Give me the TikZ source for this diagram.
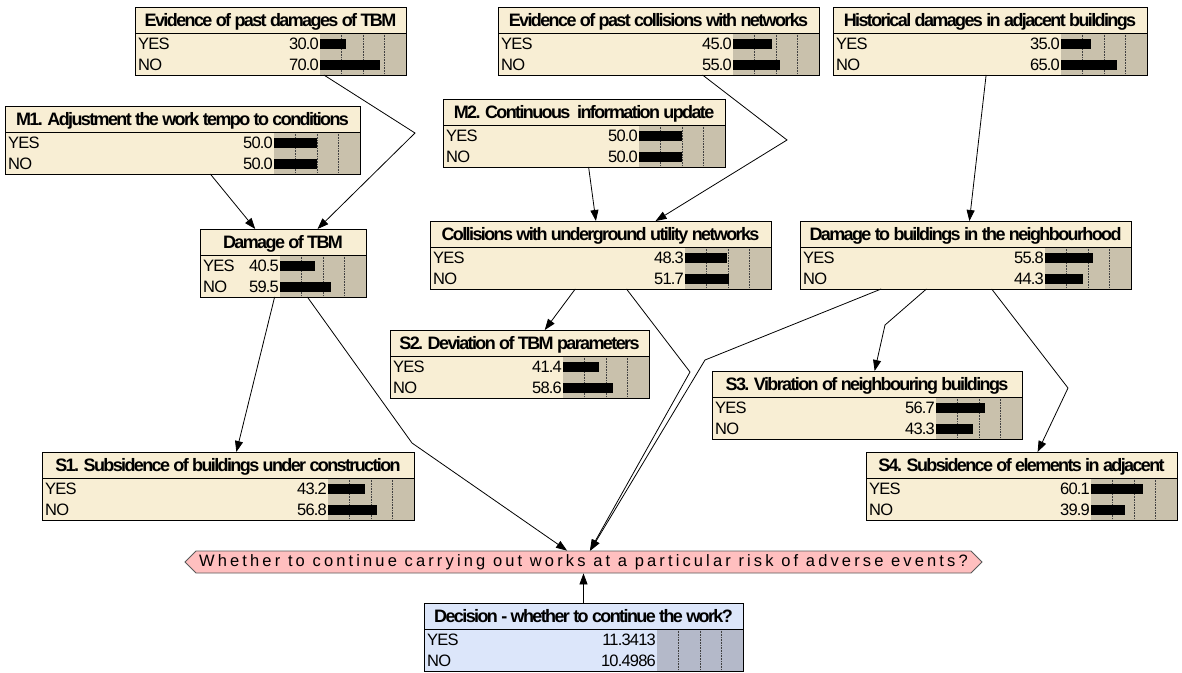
\documentclass[tikz,border=0pt]{standalone}
\usepackage{fontspec}
\setmainfont{Liberation Sans}
\usetikzlibrary{arrows.meta, calc, shapes.symbols}

\definecolor{nodefill}{HTML}{F8EED4}
\definecolor{barfill}{HTML}{C9C1AC}
\definecolor{decfill}{HTML}{DCE6FA}
\definecolor{decbar}{HTML}{B4B9C9}
\definecolor{utilfill}{HTML}{FFBFBF}

\tikzset{
    normal/.style={draw=black, line width=0.8pt},
    nb/.style={style=normal, rectangle, anchor=north west, inner sep=0pt, outer sep=0pt, minimum height=68pt}, % belief box
    tt/.style={font=\fontsize{18}{20}\selectfont\bfseries\addfontfeature{LetterSpace=-9}, inner sep=0pt, anchor=base},
    lb/.style={font=\fontsize{16.5}{18}\selectfont\addfontfeature{LetterSpace=-5}, inner sep=0pt},
    tick/.style={densely dotted, line width=0.6pt, black!75},
    e/.style={style=normal, -{Triangle[length=11pt, width=8pt]}},
    util/.style={style=normal, draw=black!65, fill=utilfill, signal, signal to=west and east, signal pointer angle=90,
        inner sep=0pt, minimum width=797pt, minimum height=22pt,
        font=\fontsize{16.5}{18}\selectfont\addfontfeature{LetterSpace=19}}
}

\newcommand{\boxcol}{nodefill}
\newcommand{\barcol}{barfill}
\newif\ifbars \barstrue
% name, left, top, width, title, yes, no
\newcommand{\bnode}[7]{%
  \node[nb, fill=\boxcol, minimum width=#4pt] (#1) at (#2,#3) {};
  \fill[\barcol] ($(#1.north east)+(-86,26)$) rectangle (#1.south east);
  \foreach \x in {21.5,43,64.5}
    \draw[tick] ($(#1.north east)+(\x-86,26)$) -- ($(#1.south east)+(\x-86,0)$);
  \ifbars
    \fill ($(#1.north east)+(-86,31.5)$) rectangle ++(#6*0.86,10);
    \fill ($(#1.north east)+(-86,52.5)$) rectangle ++(#7*0.86,10);
  \fi
  \draw[normal] ($(#1.north west)+(0,26)$) -- ($(#1.north east)+(0,26)$);
  \draw[normal] (#1.north west) rectangle (#1.south east);
  \node[tt] at ($(#1.north)+(0,19.5)$) {#5};
  \node[lb, anchor=base west] at ($(#1.north west)+(3,42.5)$) {YES};
  \node[lb, anchor=base west] at ($(#1.north west)+(3,63.5)$) {NO};
  \node[lb, anchor=base east] at ($(#1.north east)+(-87,42.5)$) {#6};
  \node[lb, anchor=base east] at ($(#1.north east)+(-87,63.5)$) {#7};
}

\begin{document}
\begin{tikzpicture}[x=1pt, y=-1pt]
  \useasboundingbox (0,0) rectangle (1182,672);

  % evidence and measures
  \bnode{evtbm}{135}{7}{271}{Evidence of past damages of TBM}{30.0}{70.0}
  \bnode{evnet}{498}{7}{321}{Evidence of past collisions with networks}{45.0}{55.0}
  \bnode{hist}{833}{7}{314}{Historical damages in adjacent buildings}{35.0}{65.0}
  \bnode{mone}{5}{106}{355}{M1. Adjustment the work tempo to conditions}{50.0}{50.0}
  \bnode{mtwo}{443}{99}{282}{M2. Continuous\ \ information update}{50.0}{50.0}

  % risks
  \bnode{dtbm}{200}{229}{166}{Damage of TBM}{40.5}{59.5}
  \bnode{coll}{430}{221}{341}{Collisions with underground utility networks}{48.3}{51.7}
  \bnode{dbld}{800}{221}{331}{Damage to buildings in the neighbourhood}{55.8}{44.3}

  % symptoms
  \bnode{stwo}{390}{330}{259}{S2. Deviation of TBM parameters}{41.4}{58.6}
  \bnode{sthree}{712}{371}{310}{S3. Vibration of neighbouring buildings}{56.7}{43.3}
  \bnode{sone}{42}{452}{372}{S1. Subsidence of buildings under construction}{43.2}{56.8}
  \bnode{sfour}{866}{452}{311}{S4. Subsidence of elements in adjacent}{60.1}{39.9}

  % utility and decision
  \node[util] (util) at (583.5,562) {Whether to continue carrying out works at a particular risk of adverse events?};
  \renewcommand{\boxcol}{decfill}
  \renewcommand{\barcol}{decbar}
  \barsfalse
  \bnode{dec}{424}{603}{319}{Decision - whether to continue the work?}{11.3413}{10.4986}

  % bend points of the links
  \coordinate (b1) at (415,133);
  \coordinate (b2) at (787,140);
  \coordinate (b3) at (885,325);
  \coordinate (b4) at (1068,388);
  \coordinate (b5) at (412,443);
  \coordinate (b6) at (690,372);
  \coordinate (b7) at (705,360);

  \draw[e] (evtbm) -- (b1) -- (dtbm);
  \draw[e] (mone) -- (dtbm);
  \draw[e] (mtwo) -- (coll);
  \draw[e] (evnet) -- (b2) -- (coll);
  \draw[e] (hist) -- (dbld);
  \draw[e] (coll) -- (stwo);
  \draw[e] (dtbm) -- (sone);
  \draw[e] (dbld) -- (b3) -- (sthree);
  \draw[e] (dbld) -- (b4) -- (sfour);
  \draw[e] (dtbm) -- (b5) -- (util);
  \draw[e] (coll) -- (b6) -- (util);
  \draw[e] (dbld) -- (b7) -- (util);
  \draw[e] (dec) -- (util);
\end{tikzpicture}
\end{document}
